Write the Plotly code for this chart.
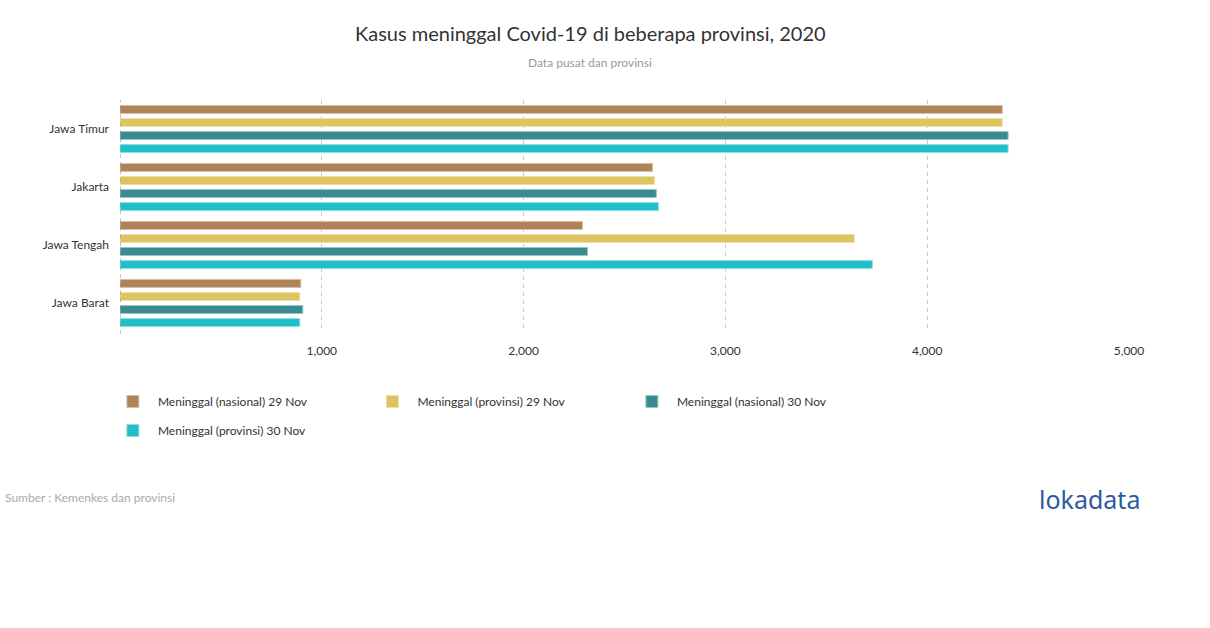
import plotly.graph_objects as go

provinces = ["Jawa Timur", "Jakarta", "Jawa Tengah", "Jawa Barat"]
series_names = [
    "Meninggal (nasional) 29 Nov",
    "Meninggal (provinsi) 29 Nov",
    "Meninggal (nasional) 30 Nov",
    "Meninggal (provinsi) 30 Nov",
]
nasional_29 = [4372, 2639, 2292, 896]
provinsi_29 = [4372, 2649, 3639, 891]
nasional_30 = [4401, 2658, 2317, 906]
provinsi_30 = [4401, 2668, 3728, 891]
x_ticks = [1000, 2000, 3000, 4000, 5000]
x_tick_labels = ["1,000", "2,000", "3,000", "4,000", "5,000"]

colors = ["#B0825A", "#DEC460", "#388B8F", "#20BEC8"]
edge = ["#D8BFA8", "#EFE0A8", "#9CC5C7", "#90DEE3"]
values = [nasional_29, provinsi_29, nasional_30, provinsi_30]
legend_ids = ["legend", "legend", "legend", "legend2"]

FONT = "Lato, 'Open Sans', sans-serif"

fig = go.Figure()
for name, vals, c, e, lg in zip(series_names, values, colors, edge, legend_ids):
    fig.add_trace(go.Bar(
        y=provinces, x=vals, name=name, orientation="h",
        marker=dict(color=c, line=dict(color=e, width=1)),
        legend=lg,
    ))

legend_common = dict(
    orientation="h", xanchor="left", yanchor="top",
    entrywidth=204.5, entrywidthmode="pixels", itemwidth=40,
    font=dict(size=12, color="#333"), traceorder="normal",
    itemclick=False, itemdoubleclick=False,
)

fig.update_layout(
    width=1210, height=628,
    paper_bgcolor="white", plot_bgcolor="white",
    font=dict(family=FONT, size=12, color="#333"),
    margin=dict(l=120, r=81, t=100, b=296),
    barmode="group", bargap=0.1, bargroupgap=0.385,
    xaxis=dict(
        range=[0, 5000], tickvals=x_ticks, ticktext=x_tick_labels,
        showgrid=True, gridcolor="#cccccc", griddash="4px,4px", gridwidth=1,
        zeroline=False, showline=False, ticks="",
        ticklabelstandoff=10, tickfont=dict(size=12, color="#333"),
    ),
    yaxis=dict(
        autorange="reversed", showgrid=False, showline=False, ticks="",
        ticklabelstandoff=10, tickfont=dict(size=12, color="#333"),
    ),
    legend=dict(x=-0.012, y=-0.237, **legend_common),
    legend2=dict(x=-0.012, y=-0.362, **legend_common),
    showlegend=True,
)

# dashed zero line
fig.add_shape(type="line", xref="x", yref="paper", x0=0, x1=0, y0=-0.01, y1=1.0,
              line=dict(color="#888888", width=1, dash="4px,4px"))

fig.add_annotation(text="Kasus meninggal Covid-19 di beberapa provinsi, 2020",
                   xref="paper", yref="paper", x=(590 - 120) / 1009, y=(332 - 33) / 232,
                   showarrow=False, font=dict(size=20, color="#333", family=FONT),
                   xanchor="center", yanchor="middle")
fig.add_annotation(text="Data pusat dan provinsi",
                   xref="paper", yref="paper", x=(590 - 120) / 1009, y=(332 - 62) / 232,
                   showarrow=False, font=dict(size=12, color="#999", family=FONT),
                   xanchor="center", yanchor="middle")
fig.add_annotation(text="Sumber : Kemenkes dan provinsi",
                   xref="paper", yref="paper", x=(3 - 120) / 1009, y=(332 - 497) / 232,
                   showarrow=False, font=dict(size=12, color="#aaa", family=FONT),
                   xanchor="left", yanchor="middle")
fig.add_annotation(text="lokadata",
                   xref="paper", yref="paper", x=(1142 - 120) / 1009, y=(332 - 499) / 232,
                   showarrow=False, font=dict(size=25, color="#2E5AA0", family="'Noto Sans', sans-serif"),
                   xanchor="right", yanchor="middle")

fig.write_html("out.html")
